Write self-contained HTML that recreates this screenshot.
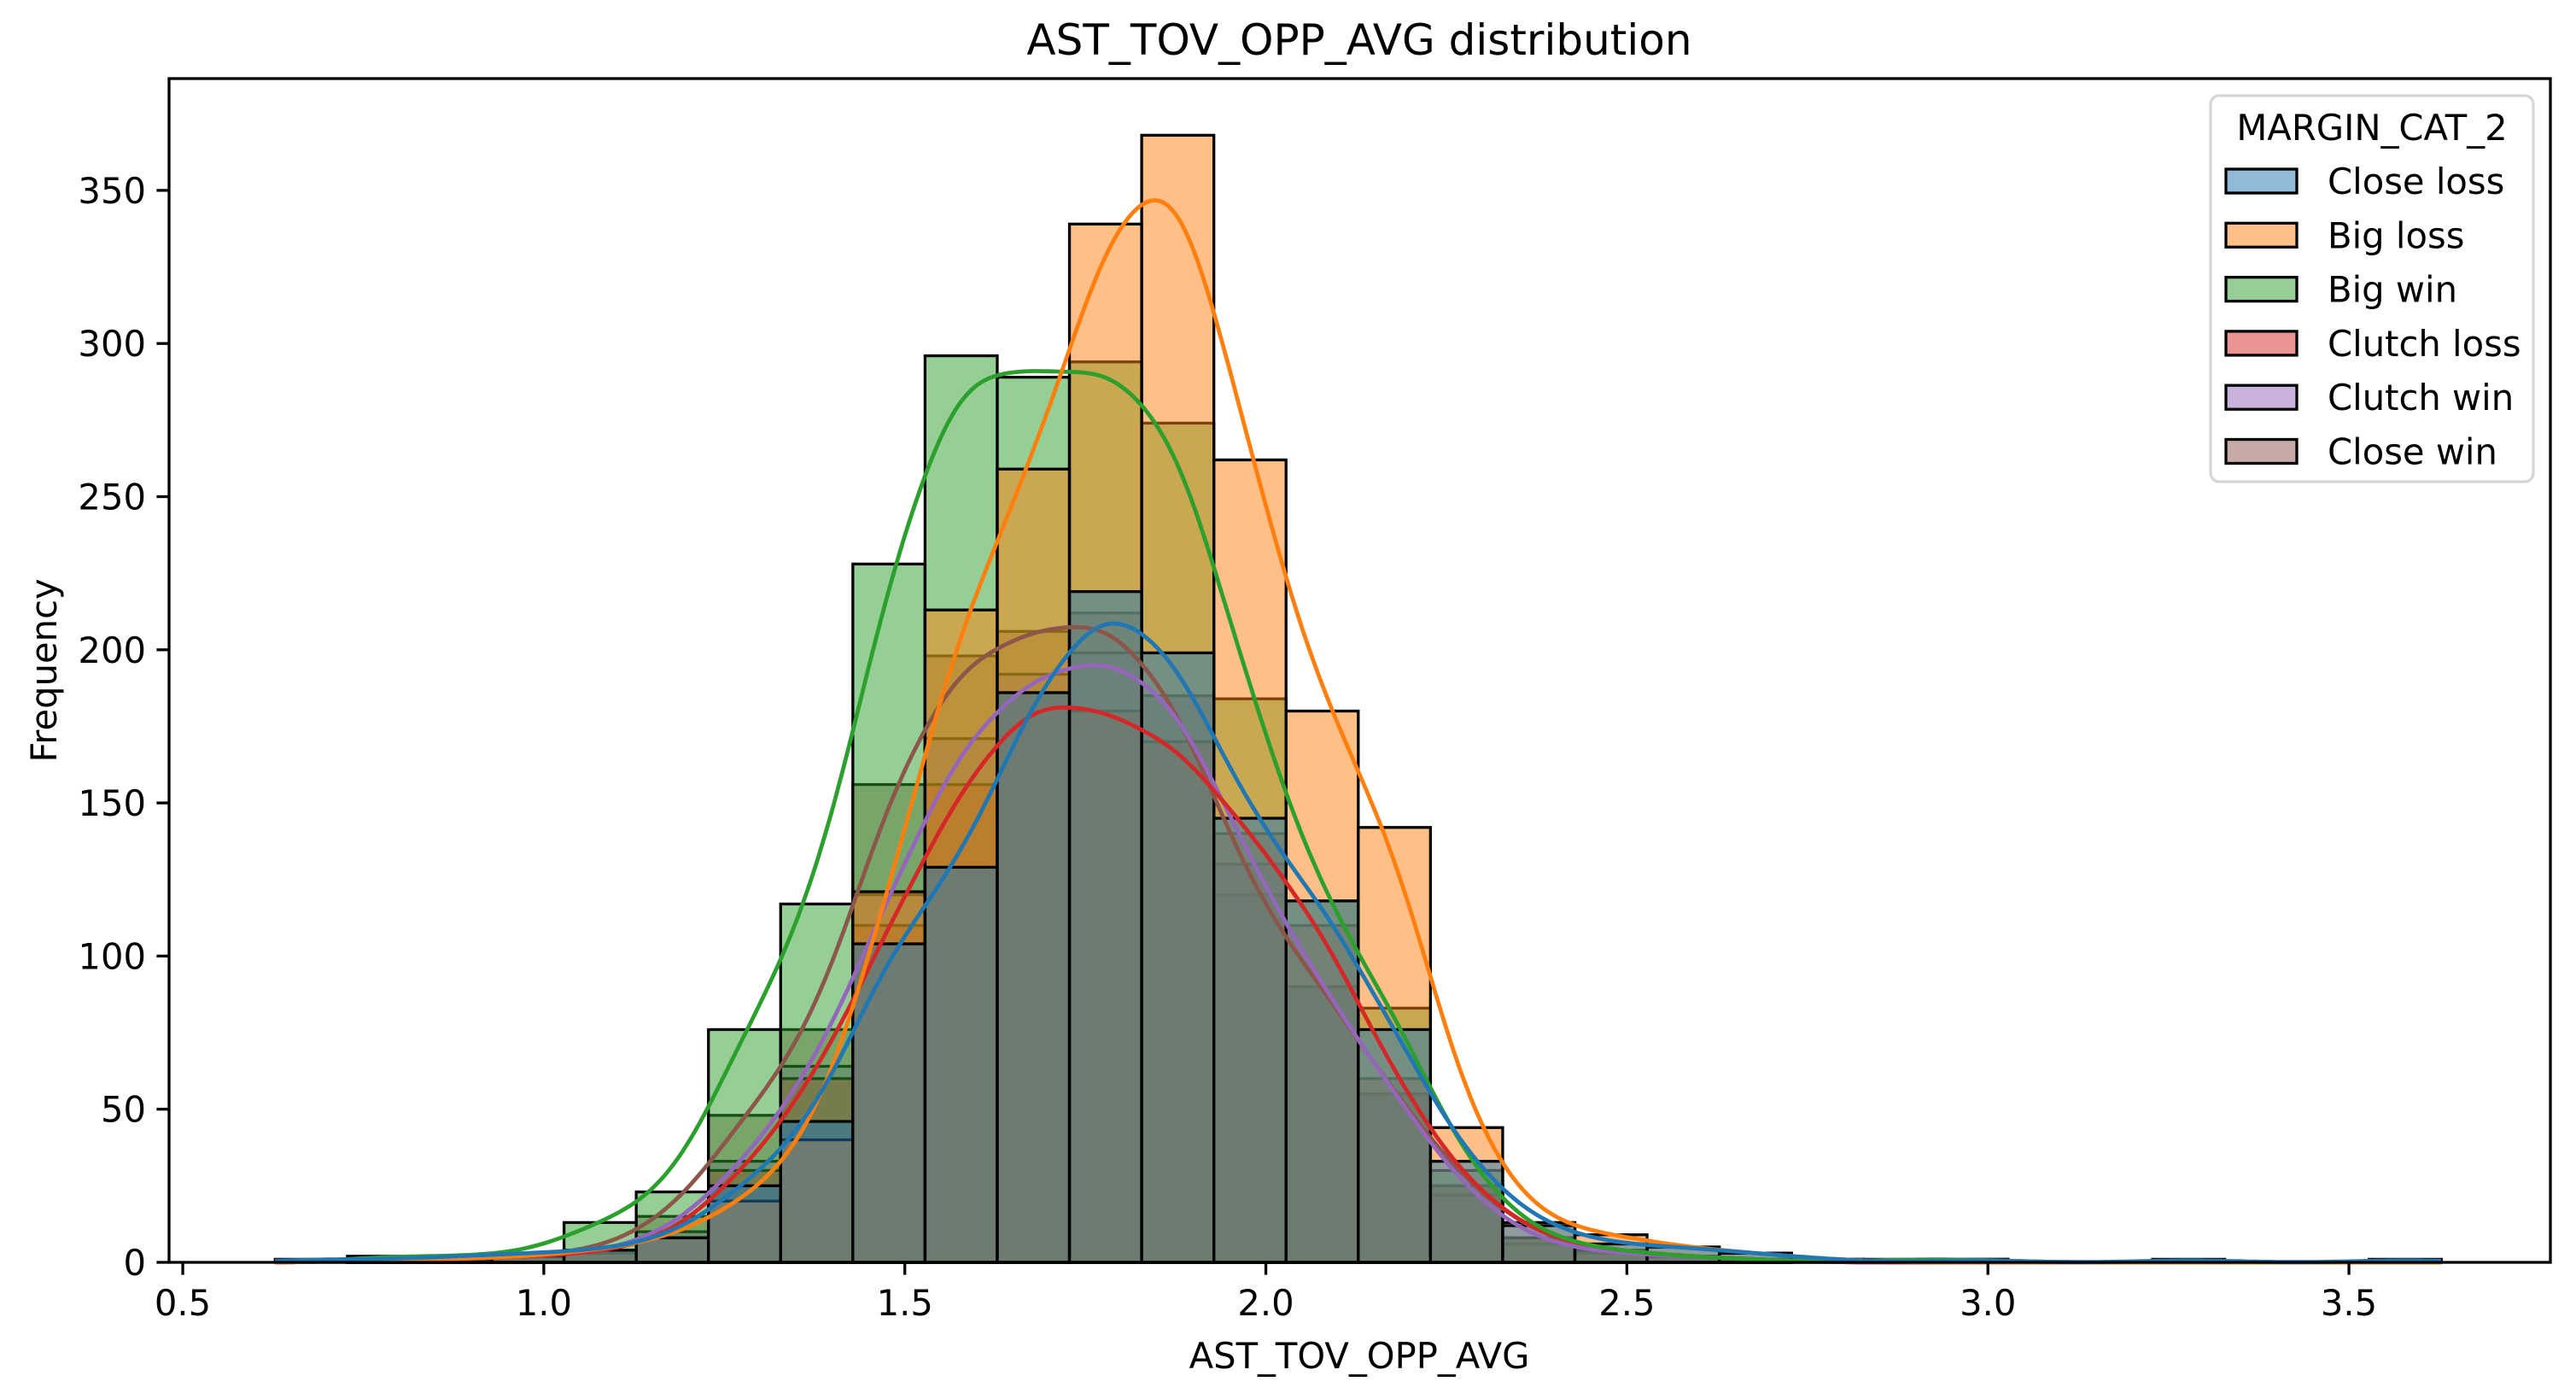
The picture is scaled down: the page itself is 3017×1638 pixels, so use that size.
<!DOCTYPE html>
<html><head><meta charset="utf-8"><style>
html,body{margin:0;padding:0;background:#fff;}
svg{display:block;font-family:"DejaVu Sans","Liberation Sans",sans-serif;}
</style></head><body>
<svg id="chart" width="3017" height="1638" viewBox="0 0 3017 1638">
<rect x="0" y="0" width="3017" height="1638" fill="#fff"/>
<g id="bars"></g>
<g id="curves"></g>
<g id="axes"></g>
<text x="1592" y="64" font-size="50" text-anchor="middle">AST_TOV_OPP_AVG distribution</text>
<text x="1592" y="1602" font-size="41.7" text-anchor="middle">AST_TOV_OPP_AVG</text>
<text x="0" y="0" font-size="41.7" text-anchor="middle" transform="translate(66,785) rotate(-90)">Frequency</text>
<g>
<rect x="2589" y="112" width="378" height="452" rx="10" fill="#fff" fill-opacity="0.8" stroke="#d6d6d6" stroke-width="3.3"/>
<text x="2778" y="164" font-size="41.7" text-anchor="middle">MARGIN_CAT_2</text>
<g id="legend-entries"></g>
</g>
</svg>
<script>
const categories = ["Close loss","Big loss","Big win","Clutch loss","Clutch win","Close win"];
const binStart = 0.628;
const binWidth = 0.1;
const closeLoss  = [1,1,2,3,4,8,25,46,104,129,186,219,199,145,118,76,33,12,6,5,3,1,0,1,0,0,1,0,0,1];
const bigLoss    = [0,1,1,2,4,8,20,40,121,213,259,339,368,262,180,142,44,13,9,5,3,1,0,0,0,0,0,0,0,0];
const bigWin     = [0,2,2,3,13,23,76,117,228,296,289,294,274,184,118,83,30,8,4,2,1,0,1,1,0,0,0,0,0,0];
const clutchLoss = [0,1,1,2,3,8,30,60,110,156,186,180,170,140,110,60,25,8,4,2,1,0,0,0,0,0,0,0,0,0];
const clutchWin  = [0,1,1,2,3,10,33,64,120,171,192,199,185,130,90,55,22,6,3,2,1,0,0,0,0,0,0,0,0,0];
const closeWin   = [0,1,2,2,4,15,48,76,156,198,206,212,185,120,90,55,25,8,3,2,1,0,0,0,0,0,0,0,0,0];
const xTicks = [0.5,1.0,1.5,2.0,2.5,3.0,3.5];
const xTickLabels = ["0.5","1.0","1.5","2.0","2.5","3.0","3.5"];
const yTicks = [0,50,100,150,200,250,300,350];
const yTickLabels = ["0","50","100","150","200","250","300","350"];

const series = [closeLoss,bigLoss,bigWin,clutchLoss,clutchWin,closeWin];
const colors = ["#1f77b4","#ff7f0e","#2ca02c","#d62728","#9467bd","#8c564b"];
const NS = "http://www.w3.org/2000/svg";
const L=198,R=2987,T=92,B=1478;
const xMin=0.481,xMax=3.779,yMax=386.5;
const sx = v => L + (v-xMin)/(xMax-xMin)*(R-L);
const sy = v => B - v/yMax*(B-T);
function mk(tag, attrs, parent){const e=document.createElementNS(NS,tag);for(const k in attrs)e.setAttribute(k,attrs[k]);parent.appendChild(e);return e;}

const barsG=document.getElementById('bars');
for(let si=series.length-1;si>=0;si--){
  const s=series[si];
  const g=mk('g',{},barsG);
  
  
  s.forEach((c,i)=>{
    if(c<=0) return;
    const x0=sx(binStart+i*binWidth), x1=sx(binStart+(i+1)*binWidth);
    const r=mk('rect',{x:x0,y:sy(c),width:x1-x0,height:sy(0)-sy(c),fill:colors[si],'fill-opacity':0.5,stroke:'#000','stroke-width':3.3},g);
    
    
  });
}

const curvesG=document.getElementById('curves');
const h=0.065;
for(let si=series.length-1;si>=0;si--){
  const s=series[si];
  let d='';
  const x0=binStart, x1=binStart+s.length*binWidth;
  for(let k=0;k<=500;k++){
    const x=x0+(x1-x0)*k/500;
    let v=0;
    s.forEach((c,i)=>{const m=binStart+(i+0.5)*binWidth;const z=(x-m)/h;v+=c*Math.exp(-0.5*z*z)*binWidth/(h*Math.sqrt(2*Math.PI));});
    d+=(k?'L':'M')+sx(x).toFixed(1)+','+sy(v).toFixed(1);
  }
  const p=mk('path',{d:d,fill:'none',stroke:colors[si],'stroke-width':4.8,'stroke-linejoin':'round'},curvesG);
  
  
}

const ax=document.getElementById('axes');
const frame=mk('rect',{x:L,y:T,width:R-L,height:B-T,fill:'none',stroke:'#000','stroke-width':3.3},ax);


xTicks.forEach((t,i)=>{
  const x=sx(t);
  const ln=mk('line',{x1:x,y1:B,x2:x,y2:B+14.6,stroke:'#000','stroke-width':3.3},ax);
  
  
  const tx=mk('text',{x:x,y:1540,'font-size':41.7,'text-anchor':'middle'},ax);
  tx.textContent=xTickLabels[i];
  
  
});
yTicks.forEach((t,i)=>{
  const y=sy(t);
  const ln=mk('line',{x1:L-14.6,y1:y,x2:L,y2:y,stroke:'#000','stroke-width':3.3},ax);
  
  
  const tx=mk('text',{x:L-27,y:y+15,'font-size':41.7,'text-anchor':'end'},ax);
  tx.textContent=yTickLabels[i];
  
  
});

const lg=document.getElementById('legend-entries');
categories.forEach((c,i)=>{
  const cy=212+i*63.3;
  const g=mk('g',{},lg);
  
  
  mk('rect',{x:2607,y:cy-14,width:83,height:28,fill:colors[i],'fill-opacity':0.5,stroke:'#000','stroke-width':3.3},g);
  const t=mk('text',{x:2726,y:cy+15,'font-size':41.7},g);
  t.textContent=c;
});
</script>
</body></html>
